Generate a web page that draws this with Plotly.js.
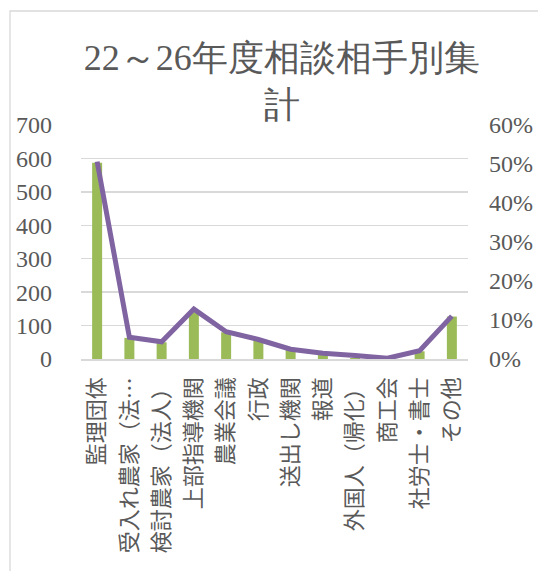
<!DOCTYPE html>
<html>
<head>
<meta charset="utf-8">
<script src="https://cdn.plot.ly/plotly-3.0.1.min.js"></script>
<style>
  html, body { margin: 0; padding: 0; background: #ffffff; }
  #chart { width: 538px; height: 571px; }
  /* 欧文書体を事前に使用しておくための退避要素 */
  #font-warm { position: absolute; left: -9999px; top: 0; font-family: "Liberation Serif"; font-size: 24px; }
</style>
</head>
<body>
<div id="font-warm">0123456789%</div>
<div id="chart"></div>
<script>
// 相談相手（区分）
const categories = [
  '監理団体', '受入れ農家（法…', '検討農家（法人）', '上部指導機関',
  '農業会議', '行政', '送出し機関', '報道',
  '外国人（帰化）', '商工会', '社労士・書士', 'その他'
];

// 相談件数（左軸）
const counts = [587, 63, 50, 140, 80, 58, 27, 14, 3, 1, 23, 127];

// 構成比（右軸）
const shares = [0.506, 0.056, 0.044, 0.128, 0.070, 0.050, 0.025, 0.015, 0.009, 0.002, 0.021, 0.110];

// 軸目盛
const countTicks = [0, 100, 200, 300, 400, 500, 600, 700];
const shareTicks = [0, 0.1, 0.2, 0.3, 0.4, 0.5, 0.6];

const textColor = '#595959';
const gridColor = '#d9d9d9';

const bars = {
  type: 'bar',
  x: categories,
  y: counts,
  marker: { color: '#9bbb59' },
  hoverinfo: 'skip',
  showlegend: false
};

const line = {
  type: 'scatter',
  mode: 'lines',
  x: categories,
  y: shares,
  yaxis: 'y2',
  line: { color: '#8064a2', width: 5 },
  hoverinfo: 'skip',
  showlegend: false
};

const layout = {
  width: 538,
  height: 571,
  margin: { l: 81, r: 70, t: 125, b: 212 },
  paper_bgcolor: '#ffffff',
  plot_bgcolor: '#ffffff',
  // 数字は明朝系の欧文書体（和文はフォールバック）
  font: { family: 'Liberation Serif', size: 24, color: textColor },
  bargap: 0.69,
  title: {
    text: '22～26年度相談相手別集<br>計',
    font: { size: 36 },
    xref: 'paper', x: 0.519, xanchor: 'center',
    yref: 'container', y: 1 - 70 / 571, yanchor: 'top'
  },
  xaxis: {
    type: 'category',
    tickangle: -90,
    tickfont: { family: 'Noto Sans CJK JP', size: 22 },
    ticks: '',
    ticklabelstandoff: 8,
    showline: true,
    linecolor: gridColor,
    linewidth: 1.5,
    showgrid: false,
    zeroline: false,
    fixedrange: true
  },
  yaxis: {
    range: [0, 700],
    tickvals: countTicks,
    ticktext: countTicks.map(String),
    ticks: '',
    ticklabelstandoff: 28,
    showgrid: true,
    gridcolor: gridColor,
    gridwidth: 1.3,
    zeroline: false,
    showline: false,
    fixedrange: true
  },
  yaxis2: {
    overlaying: 'y',
    side: 'right',
    range: [0, 0.6],
    tickvals: shareTicks,
    ticktext: shareTicks.map(v => Math.round(v * 100) + '%'),
    ticks: '',
    ticklabelstandoff: 20,
    showgrid: false,
    zeroline: false,
    showline: false,
    fixedrange: true
  },
  shapes: [{
    type: 'rect',
    xref: 'paper', yref: 'paper',
    x0: (10 - 81) / 387, x1: (560 - 81) / 387,
    y0: (359 - 600) / 234, y1: (359 - 11) / 234,
    line: { color: gridColor, width: 1.3 },
    fillcolor: 'rgba(0,0,0,0)',
    layer: 'below'
  }]
};

Plotly.newPlot('chart', [bars, line], layout, { staticPlot: true, displayModeBar: false });
</script>
</body>
</html>
